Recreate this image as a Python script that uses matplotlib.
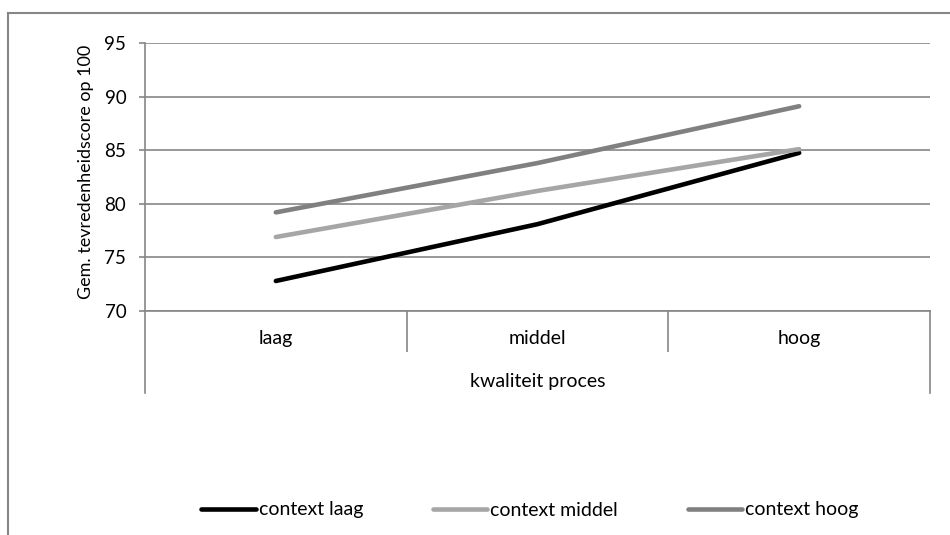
import matplotlib.pyplot as plt
from matplotlib.lines import Line2D

categories = ["laag", "middel", "hoog"]
context_laag = [72.8, 78.1, 84.75]
context_middel = [76.9, 81.2, 85.1]
context_hoog = [79.2, 83.8, 89.1]
y_ticks = [70, 75, 80, 85, 90, 95]

plt.rcParams["font.family"] = ["Lato", "DejaVu Sans"]
plt.rcParams["font.size"] = 14

grid_color = "#868686"
W, H = 950, 535

fig = plt.figure(figsize=(9.5, 5.35), dpi=100)
ax = fig.add_axes([145 / W, 1 - 311 / H, 785 / W, 268 / H])

x = list(range(len(categories)))
ax.plot(x, context_laag, color="black", lw=3.3, solid_capstyle="round", label="context laag")
ax.plot(x, context_middel, color="#a6a6a6", lw=3.3, solid_capstyle="round", label="context middel")
ax.plot(x, context_hoog, color="#808080", lw=3.3, solid_capstyle="round", label="context hoog")

ax.set_xlim(-0.5, 2.5)
ax.set_ylim(70, 95)
ax.set_yticks(y_ticks)
ax.yaxis.grid(True, color=grid_color, lw=1.2)
ax.set_axisbelow(True)

for side in ["top", "right"]:
    ax.spines[side].set_visible(False)
for side in ["left", "bottom"]:
    ax.spines[side].set_color(grid_color)
    ax.spines[side].set_linewidth(1.2)

ax.tick_params(axis="y", length=4.5, width=1.2, color=grid_color, pad=9,
               labelsize=13.5)

# category labels with separator ticks between them
ax.set_xticks(x)
ax.set_xticklabels(categories)
ax.tick_params(axis="x", which="major", length=0, pad=14)
ax.set_xticks([0.5, 1.5], minor=True)
ax.tick_params(axis="x", which="minor", length=29.5, width=1.2, color=grid_color)

# outer boundaries of the category axis
trans = ax.get_xaxis_transform()
for xe in (-0.5, 2.5):
    ax.plot([xe, xe], [0, -82 / 268], color=grid_color, lw=1.2,
            transform=trans, clip_on=False)

ax.set_xlabel("kwaliteit proces", va="center")
ax.xaxis.set_label_coords(0.5, -(381 - 311) / 268)
ax.set_ylabel("Gem. tevredenheidscore op 100", va="center", fontsize=13)
ax.yaxis.set_label_coords((86 - 145) / 785, 0.52)

fig.legend(loc="center", bbox_to_anchor=(530 / W, 1 - 510 / H), ncol=3,
           frameon=False, handlelength=2.8, handletextpad=0.15,
           columnspacing=3.6)

# chart border
fig.add_artist(Line2D([8 / W, 8 / W], [0, 1 - 13 / H], color=grid_color, lw=1.5))
fig.add_artist(Line2D([8 / W, 1], [1 - 13 / H, 1 - 13 / H], color=grid_color, lw=1.5))

fig.savefig("out.png", dpi=100)
